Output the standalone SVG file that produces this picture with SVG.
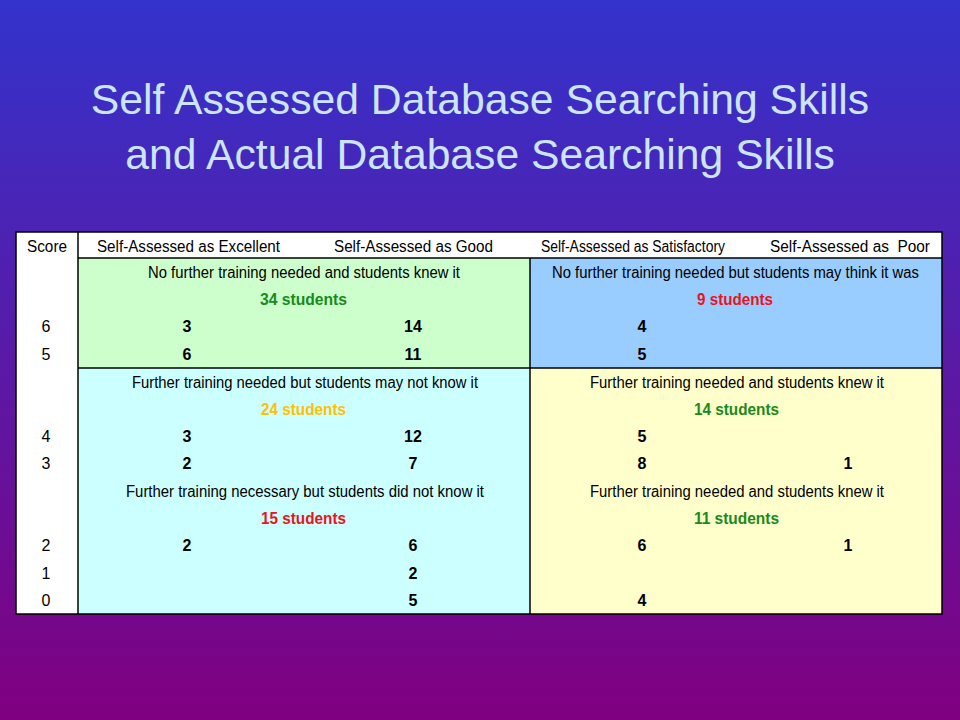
<svg xmlns="http://www.w3.org/2000/svg" width="960" height="720" viewBox="0 0 960 720">
<defs>
<linearGradient id="bg" x1="0" y1="0" x2="0" y2="1">
<stop offset="0" stop-color="#3333CC"/>
<stop offset="1" stop-color="#800080"/>
</linearGradient>
<style>
.title{font-family:"Liberation Sans",Arial,sans-serif;font-size:42.7px;fill:#CCE5FF;text-anchor:middle}
.t{font-family:"Liberation Sans",Arial,sans-serif;font-size:16px;fill:#000;text-anchor:middle}
.n{font-family:"Liberation Sans",Arial,sans-serif;font-size:16px;font-weight:bold;fill:#000;text-anchor:middle}
.g{fill:#1A8A1A}
.r{fill:#E8141E}
.y{fill:#FFC000}
.line{stroke:#000;stroke-width:1.5;fill:none}
</style>
</defs>
<rect width="960" height="720" fill="url(#bg)"/>
<g id="title">
<text class="title" x="480" y="114">Self Assessed Database Searching Skills</text>
<text class="title" x="480" y="169">and Actual Database Searching Skills</text>
</g>
<g id="header">
<rect x="16" y="232" width="926" height="26" fill="#FFFFFF"/>
<text class="t" x="47" y="252" textLength="40" lengthAdjust="spacingAndGlyphs">Score</text>
<text class="t" x="188.5" y="252" textLength="183" lengthAdjust="spacingAndGlyphs">Self-Assessed as Excellent</text>
<text class="t" x="413.5" y="252" textLength="159" lengthAdjust="spacingAndGlyphs">Self-Assessed as Good</text>
<text class="t" x="633" y="252" textLength="184" lengthAdjust="spacingAndGlyphs">Self-Assessed as Satisfactory</text>
<text class="t" x="850" y="252" textLength="160" lengthAdjust="spacingAndGlyphs" xml:space="preserve">Self-Assessed as  Poor</text>
</g>
<g id="score-column">
<rect x="16" y="258" width="62" height="356" fill="#FFFFFF"/>
<text class="t" x="46" y="332">6</text>
<text class="t" x="46" y="360">5</text>
<text class="t" x="46" y="442">4</text>
<text class="t" x="46" y="469">3</text>
<text class="t" x="46" y="551">2</text>
<text class="t" x="46" y="579">1</text>
<text class="t" x="46" y="606">0</text>
</g>
<g id="cell-top-left">
<rect x="78" y="258" width="452" height="110" fill="#CCFFCC"/>
<text class="t" x="304" y="278" textLength="312" lengthAdjust="spacingAndGlyphs">No further training needed and students knew it</text>
<text class="n g" x="303.5" y="305" textLength="87" lengthAdjust="spacingAndGlyphs">34 students</text>
<text class="n" x="187" y="332">3</text>
<text class="n" x="413" y="332">14</text>
<text class="n" x="187" y="360">6</text>
<text class="n" x="413" y="360">11</text>
</g>
<g id="cell-top-right">
<rect x="530" y="258" width="412" height="110" fill="#99CCFF"/>
<text class="t" x="735.5" y="278" textLength="367" lengthAdjust="spacingAndGlyphs">No further training needed but students may think it was</text>
<text class="n r" x="735" y="305" textLength="76" lengthAdjust="spacingAndGlyphs">9 students</text>
<text class="n" x="642" y="332">4</text>
<text class="n" x="642" y="360">5</text>
</g>
<g id="cell-bottom-left">
<rect x="78" y="368" width="452" height="246" fill="#CCFFFF"/>
<text class="t" x="305" y="388" textLength="346" lengthAdjust="spacingAndGlyphs">Further training needed but students may not know it</text>
<text class="n y" x="303.5" y="415" textLength="85" lengthAdjust="spacingAndGlyphs">24 students</text>
<text class="n" x="187" y="442">3</text>
<text class="n" x="413" y="442">12</text>
<text class="n" x="187" y="469">2</text>
<text class="n" x="413" y="469">7</text>
<text class="t" x="305" y="497" textLength="358" lengthAdjust="spacingAndGlyphs">Further training necessary but students did not know it</text>
<text class="n r" x="303.5" y="524" textLength="85" lengthAdjust="spacingAndGlyphs">15 students</text>
<text class="n" x="187" y="551">2</text>
<text class="n" x="413" y="551">6</text>
<text class="n" x="413" y="579">2</text>
<text class="n" x="413" y="606">5</text>
</g>
<g id="cell-bottom-right">
<rect x="530" y="368" width="412" height="246" fill="#FFFFCC"/>
<text class="t" x="737" y="388" textLength="294" lengthAdjust="spacingAndGlyphs">Further training needed and students knew it</text>
<text class="n g" x="736.5" y="415" textLength="85" lengthAdjust="spacingAndGlyphs">14 students</text>
<text class="n" x="642" y="442">5</text>
<text class="n" x="642" y="469">8</text>
<text class="n" x="848" y="469">1</text>
<text class="t" x="737" y="497" textLength="294" lengthAdjust="spacingAndGlyphs">Further training needed and students knew it</text>
<text class="n g" x="736.5" y="524" textLength="85" lengthAdjust="spacingAndGlyphs">11 students</text>
<text class="n" x="642" y="551">6</text>
<text class="n" x="848" y="551">1</text>
<text class="n" x="642" y="606">4</text>
</g>
<g id="grid-lines">
<rect class="line" x="16" y="232" width="926" height="382"/>
<line class="line" x1="78" y1="232" x2="78" y2="614"/>
<line class="line" x1="78" y1="258" x2="942" y2="258"/>
<line class="line" x1="78" y1="368" x2="942" y2="368"/>
<line class="line" x1="530" y1="258" x2="530" y2="614"/>
</g>
</svg>
